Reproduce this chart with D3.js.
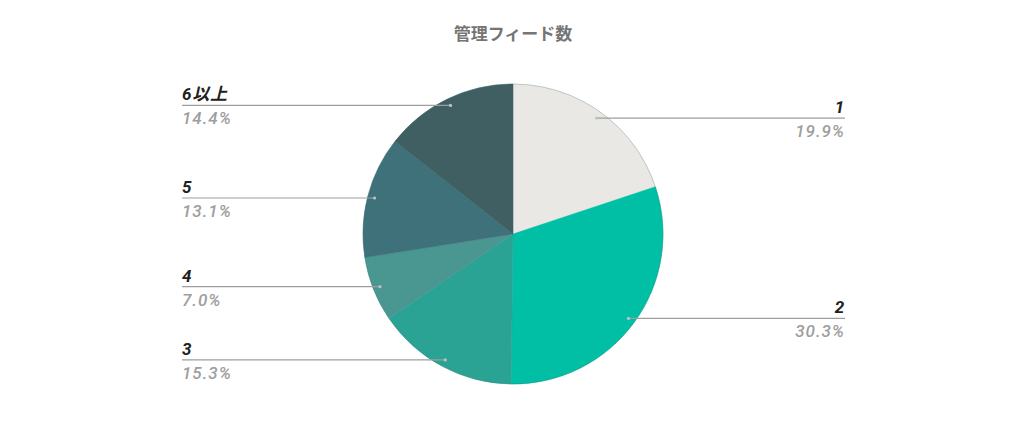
<!DOCTYPE html>
<html>
<head>
<meta charset="utf-8">
<script src="https://cdn.jsdelivr.net/npm/d3@7"></script>
<style>
  html, body { margin: 0; padding: 0; background: #fff; }
  svg { display: block; }
  text { font-family: Roboto, "Noto Sans CJK JP", sans-serif; }
</style>
</head>
<body>
<div id="chart"></div>
<script>
// Data
const title = "管理フィード数";
const categories = ["1", "2", "3", "4", "5", "6以上"];
const shares = [19.9, 30.3, 15.3, 7.0, 13.1, 14.4];
const colors = ["#e9e8e5", "#00bfa5", "#2ba394", "#4a9690", "#3e717a", "#3f5f63"];

// Configuration
const width = 1024, height = 442;
const cx = 513, cy = 234, radius = 150;
const dotRadius = 143;
const leftX = 182, rightX = 845;

const svg = d3.select("#chart")
    .append("svg")
    .attr("width", width)
    .attr("height", height);

svg.append("text")
    .attr("x", cx)
    .attr("y", 40)
    .attr("text-anchor", "middle")
    .style("font-family", "'Noto Sans CJK JP', sans-serif")
    .style("font-size", "17px")
    .style("font-weight", "bold")
    .attr("fill", "#757575")
    .text(title);

const data = categories.map((c, i) => ({ name: c, value: shares[i], color: colors[i] }));

const pie = d3.pie()
    .sort(null)
    .value(d => d.value);

const arc = d3.arc()
    .innerRadius(0)
    .outerRadius(radius);

const arcs = pie(data);

const g = svg.append("g")
    .attr("transform", `translate(${cx}, ${cy})`);

g.selectAll(".slice")
    .data(arcs)
    .join("path")
    .attr("class", "slice")
    .attr("d", arc)
    .attr("fill", d => d.data.color)
    .attr("stroke", d => d.data.color)
    .attr("stroke-width", 0.5);

// Outer rim
g.append("circle")
    .attr("r", radius)
    .attr("fill", "none")
    .attr("stroke", "#2f6b66")
    .attr("stroke-opacity", 0.35)
    .attr("stroke-width", 0.8);

// Leader lines and labels
const labelArc = d3.arc()
    .innerRadius(dotRadius)
    .outerRadius(dotRadius);

arcs.forEach(d => {
    const [px, py] = labelArc.centroid(d);
    const x = cx + px, y = cy + py;
    const right = x > cx;
    const endX = right ? rightX : leftX;

    svg.append("line")
        .attr("x1", x)
        .attr("y1", y)
        .attr("x2", endX)
        .attr("y2", y)
        .attr("stroke", "#9e9e9e")
        .attr("stroke-width", 1.2);

    svg.append("circle")
        .attr("cx", x)
        .attr("cy", y)
        .attr("r", 1.6)
        .attr("fill", "#b8c4c4");

    svg.append("text")
        .attr("x", endX)
        .attr("y", y - 5)
        .attr("text-anchor", right ? "end" : "start")
        .style("font-size", "17px")
        .style("font-style", "italic")
        .style("font-weight", "bold")
        .style("letter-spacing", "0.8px")
        .attr("fill", "#212121")
        .text(d.data.name);

    svg.append("text")
        .attr("x", endX)
        .attr("y", y + 19)
        .attr("text-anchor", right ? "end" : "start")
        .style("font-size", "17px")
        .style("font-style", "italic")
        .style("font-weight", "500")
        .style("letter-spacing", "1px")
        .attr("fill", "#9e9e9e")
        .text(d.data.value.toFixed(1) + "%");
});
</script>
</body>
</html>
